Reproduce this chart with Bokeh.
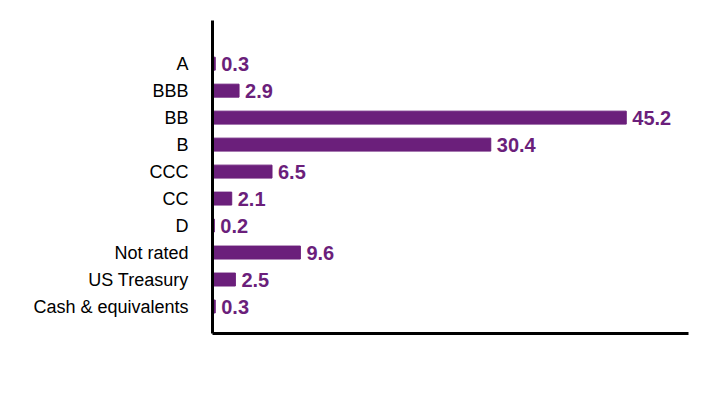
from bokeh.plotting import figure
from bokeh.models import ColumnDataSource, FixedTicker, Range1d
from bokeh.core.properties import value
from bokeh.embed import file_html
from bokeh.resources import INLINE

categories = ["A", "BBB", "BB", "B", "CCC", "CC", "D", "Not rated", "US Treasury", "Cash & equivalents"]
values = [0.3, 2.9, 45.2, 30.4, 6.5, 2.1, 0.2, 9.6, 2.5, 0.3]

n = len(categories)
ypos = [n - i for i in range(n)]
labels = [f"{v:.1f}" for v in values]

src = ColumnDataSource(dict(y=ypos, v=values, lab=labels))

p = figure(width=708, height=408, output_backend="svg", toolbar_location=None,
           x_range=Range1d(0, 52), y_range=Range1d(0, n + 1.6),
           min_border_left=212, min_border_right=20, min_border_top=20, min_border_bottom=75)
p.outline_line_color = None
p.xgrid.visible = False
p.ygrid.visible = False
p.background_fill_color = "white"
p.border_fill_color = "white"

bar_color = "#6B1F7B"
p.hbar(y="y", right="v", left=0, height=0.48, source=src, color=bar_color)
p.text(x="v", y="y", text="lab", source=src, x_offset=6, text_baseline="middle",
       text_align="left", text_color=bar_color, text_font=value("Liberation Sans"),
       text_font_style="bold", text_font_size="20px")

ya = p.yaxis[0]
ya.ticker = FixedTicker(ticks=ypos)
ya.major_label_overrides = {y: c for y, c in zip(ypos, categories)}
ya.major_tick_line_color = None
ya.minor_tick_line_color = None
ya.axis_line_width = 3
ya.axis_line_color = "black"
ya.major_label_text_font = "Liberation Sans"
ya.major_label_text_font_size = "18px"
ya.major_label_text_color = "black"
ya.major_label_standoff = 18

xa = p.xaxis[0]
xa.ticker = FixedTicker(ticks=[])
xa.major_tick_line_color = None
xa.minor_tick_line_color = None
xa.axis_line_width = 3
xa.axis_line_color = "black"

open("out.html", "w").write(file_html(p, INLINE))
